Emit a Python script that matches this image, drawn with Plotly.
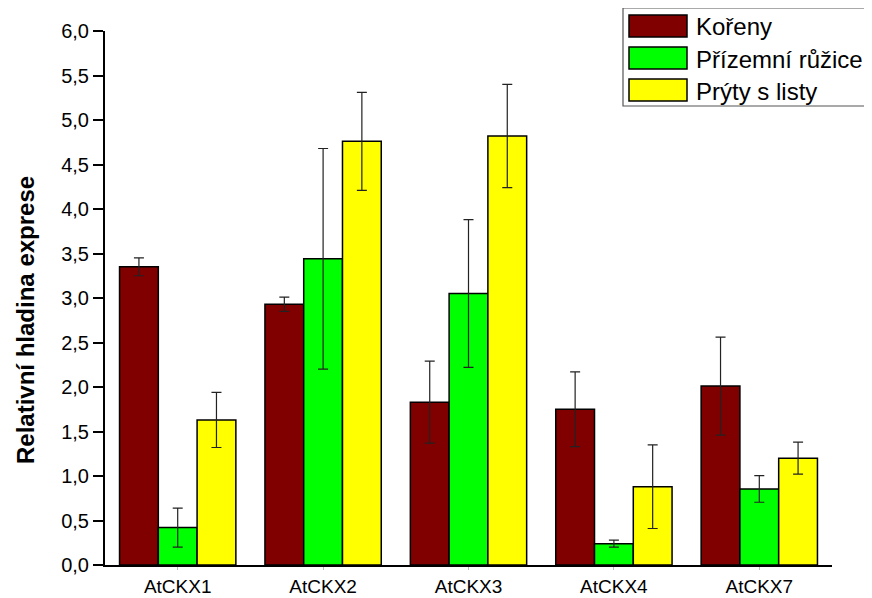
import plotly.graph_objects as go

categories = ["AtCKX1", "AtCKX2", "AtCKX3", "AtCKX4", "AtCKX7"]
series_names = ["Kořeny", "Přízemní růžice", "Prýty s listy"]
korenye = [3.35, 2.93, 1.83, 1.75, 2.01]
korenye_err = [0.10, 0.08, 0.46, 0.42, 0.55]
ruzice = [0.42, 3.44, 3.05, 0.24, 0.855]
ruzice_err = [0.22, 1.24, 0.83, 0.04, 0.15]
pryty = [1.63, 4.76, 4.82, 0.88, 1.20]
pryty_err = [0.31, 0.55, 0.58, 0.47, 0.18]
colors = ["#800000", "#00FF00", "#FFFF00"]
y_ticks = [0, 0.5, 1, 1.5, 2, 2.5, 3, 3.5, 4, 4.5, 5, 5.5, 6]
y_title = "Relativní hladina exprese"

# page body margin offsets the figure by 8px; compensate
OFF = 8
W, H = 872 - OFF, 598 - OFF
PX0, PX1, PY0, PY1 = 105, 832, 31, 565  # plot area in screenshot pixels
L, T = PX0 - OFF, PY0 - OFF
R = W - L - (PX1 - PX0)
B = H - T - (PY1 - PY0)
FONT = "Liberation Sans, Arial, sans-serif"

fig = go.Figure()
for name, vals, errs, col in zip(series_names, [korenye, ruzice, pryty],
                                 [korenye_err, ruzice_err, pryty_err], colors):
    fig.add_trace(go.Bar(
        x=categories, y=vals, name=name,
        marker=dict(color=col, line=dict(color="black", width=1.5)),
        error_y=dict(type="data", array=errs, visible=True,
                     color="#222222", thickness=1.2, width=5),
        showlegend=False,
    ))

def px_x(p):
    return (p - PX0) / (PX1 - PX0)

def px_y(p):
    return (PY1 - p) / (PY1 - PY0)

# custom legend (box, swatches, labels)
shapes = [dict(type="rect", xref="paper", yref="paper",
               x0=px_x(623), x1=px_x(900), y0=px_y(106), y1=px_y(8),
               line=dict(color="#555555", width=1.2), fillcolor="white", layer="above")]
annotations = []
row_centers = [26, 58, 90]
for name, col, cy in zip(series_names, colors, row_centers):
    shapes.append(dict(type="rect", xref="paper", yref="paper",
                       x0=px_x(629), x1=px_x(687), y0=px_y(cy + 11), y1=px_y(cy - 11),
                       line=dict(color="black", width=1.5), fillcolor=col, layer="above"))
    annotations.append(dict(xref="paper", yref="paper", x=px_x(694), y=px_y(cy + 1),
                            xanchor="left", yanchor="middle", text=name, showarrow=False,
                            font=dict(size=24, color="black", family=FONT)))

annotations.append(dict(xref="paper", yref="paper", x=px_x(25), y=px_y(320),
                        xanchor="center", yanchor="middle", textangle=-90,
                        text="<b>" + y_title + "</b>", showarrow=False,
                        font=dict(size=24, color="black", family=FONT)))

fig.update_layout(
    width=W, height=H,
    margin=dict(l=L, r=R, t=T, b=B, autoexpand=False),
    paper_bgcolor="white", plot_bgcolor="white",
    barmode="group", bargap=0.2, bargroupgap=0,
    separators=", ",
    font=dict(family=FONT, size=20, color="black"),
    shapes=shapes, annotations=annotations,
)
fig.update_xaxes(
    showline=True, linecolor="black", linewidth=2,
    ticks="outside", ticklen=3, tickcolor="#bbbbbb", tickwidth=1,
    tickfont=dict(size=19), showgrid=False, range=[-0.5, 4.5],
)
fig.update_yaxes(
    range=[0, 6], tickvals=y_ticks, tickformat=".1f",
    showline=True, linecolor="black", linewidth=2,
    ticks="outside", ticklen=10, tickwidth=2, tickcolor="black",
    tickfont=dict(size=20), showgrid=False, zeroline=False,
)
fig.write_html("out.html")
